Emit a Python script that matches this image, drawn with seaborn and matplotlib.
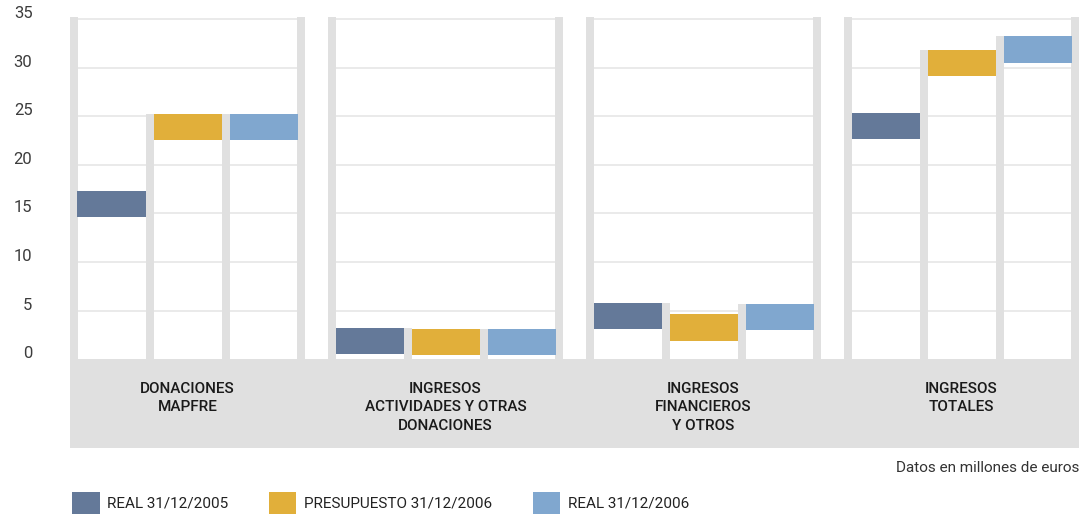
import numpy as np
import pandas as pd
import seaborn as sns
import matplotlib.pyplot as plt
import matplotlib.transforms as mtransforms
from matplotlib.patches import Patch

# datos (millones de euros)
categories = ["DONACIONES\nMAPFRE",
              "INGRESOS\nACTIVIDADES Y OTRAS\nDONACIONES",
              "INGRESOS\nFINANCIEROS\nY OTROS",
              "INGRESOS\nTOTALES"]
series = ["REAL 31/12/2005", "PRESUPUESTO 31/12/2006", "REAL 31/12/2006"]
real_2005 = [17.3, 3.2, 5.8, 25.3]
presupuesto_2006 = [25.2, 3.1, 4.6, 31.8]
real_2006 = [25.2, 3.1, 5.7, 33.2]
yticks = [0, 5, 10, 15, 20, 25, 30, 35]
colors = ["#647999", "#e1af3a", "#80a7cf"]
gray = "#e0e0e0"
cap = 2.7  # alto del bloque de color

sns.set_style("white")
plt.rcParams["font.family"] = ["Roboto", "DejaVu Sans"]

values = [real_2005, presupuesto_2006, real_2006]
rows = []
for s, vals in zip(series, values):
    for c, v in zip(categories, vals):
        rows.append({"categoria": c, "serie": s, "valor": v, "cap": cap})
df = pd.DataFrame(rows)

fig = plt.figure(figsize=(10.89, 5.15), dpi=100)
ax = fig.add_axes([70 / 1089, 67 / 515, 1009 / 1089, 431 / 515])

px = 1 / 258  # un grupo = 258 px
half = 117.5 * px
pil = 8 * px

sns.barplot(data=df, x="categoria", y="cap", hue="serie", order=categories,
            hue_order=series, palette=colors, saturation=1, width=76 * 3 * px,
            gap=8 / 76, errorbar=None, legend=False, zorder=4, linewidth=0,
            edgecolor="none", ax=ax)
# subir cada bloque hasta su valor
for cont, vals in zip(ax.containers[:3], values):
    for patch, v in zip(cont, vals):
        patch.set_y(v - cap)

# banda gris inferior
ax.axhspan(-9.14, 0, color=gray, lw=0, zorder=0)

for i in range(len(categories)):
    # rejilla solo dentro del grupo
    ax.hlines(yticks[1:], i - half, i + half, color="#e6e6e6", lw=1.2, zorder=1)
    # columnas grises
    v = [real_2005[i], presupuesto_2006[i], real_2006[i]]
    xs = [i - half + pil / 2, i - 38 * px, i + 38 * px, i + half - pil / 2]
    hs = [35.2, max(v[0], v[1]), max(v[1], v[2]), 35.2]
    ax.bar(xs, hs, width=pil, color=gray, lw=0, zorder=2)
    ax.text(i, -2.3, categories[i], ha="center", va="top", fontsize=11,
            fontweight="medium", color="#1a1a1a", linespacing=1.45)

ax.set_xlim(-half, 3 + half)
ax.set_ylim(-9.14, 35.2)
ax.set_xticks([])
ax.set_yticks(yticks)
ax.set_yticklabels([str(t) for t in yticks], fontsize=12, color="#3c3c3c")
ax.tick_params(axis="y", length=0, pad=27)
for lab in ax.get_yticklabels():
    lab.set_transform(lab.get_transform() +
                      mtransforms.ScaledTranslation(0, 5 / 72, fig.dpi_scale_trans))
ax.set_xlabel("")
ax.set_ylabel("")
sns.despine(ax=ax, left=True, bottom=True)

fig.text(1079 / 1089, (515 - 468) / 515, "Datos en millones de euros",
         ha="right", va="center", fontsize=11, color="#333333")

handles = [Patch(facecolor=c, edgecolor="none") for c in colors]
fig.legend(handles, series, loc="center left", bbox_to_anchor=(72 / 1089, 12 / 515),
           ncol=3, frameon=False, fontsize=11, handlelength=1.8, handleheight=1.8,
           handletextpad=0.5, columnspacing=2.65, borderpad=0, borderaxespad=0,
           labelcolor="#222222")

fig.savefig("out.png", dpi=100)
